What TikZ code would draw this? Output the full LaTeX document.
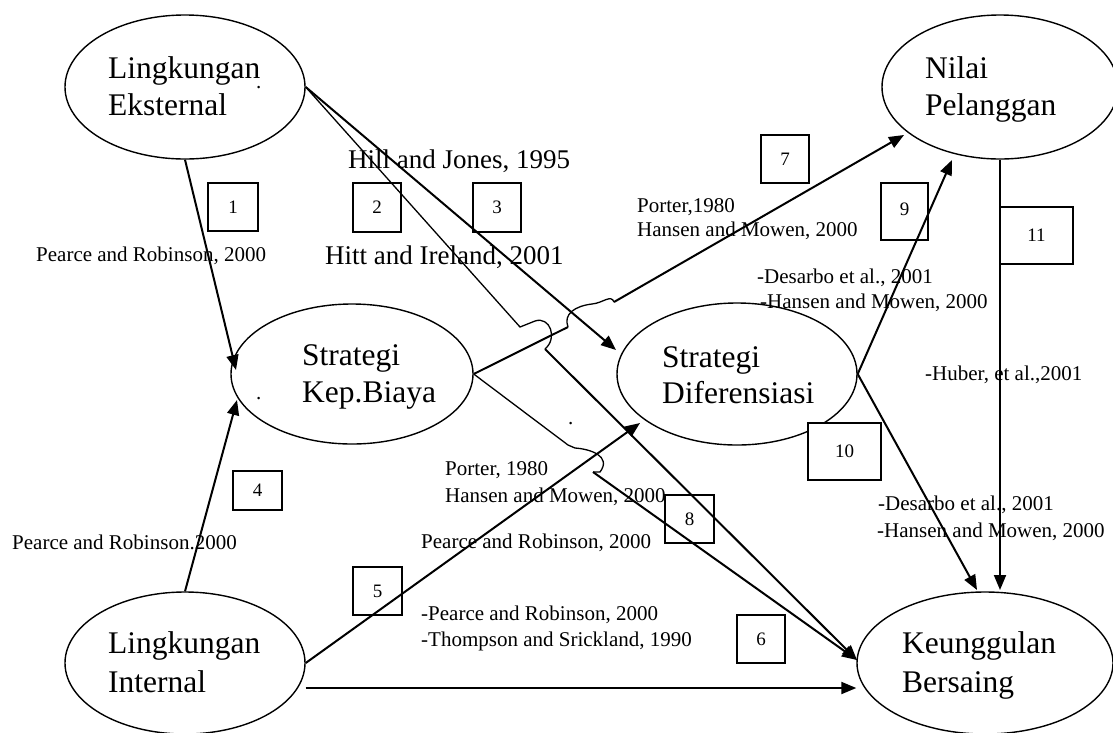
\documentclass[tikz,border=0pt]{standalone}
\usepackage{fontspec}
\setmainfont{Liberation Serif}
\usetikzlibrary{arrows.meta,calc,shapes.geometric}
\begin{document}
\begin{tikzpicture}[x=1pt,y=-1pt,
  ell/.style={ellipse,draw,line width=1.4pt,fill=white,inner sep=0pt},
  big/.style={anchor=base west,inner sep=0pt,font=\fontsize{31.5}{37}\selectfont},
  cite/.style={anchor=base west,inner sep=0pt,font=\fontsize{21}{25}\selectfont},
  hill/.style={anchor=base west,inner sep=0pt,font=\fontsize{27}{31}\selectfont},
  numbox/.style={draw,line width=1.4pt,fill=white,inner sep=0pt,font=\fontsize{19}{22}\selectfont},
  arr/.style={line width=2pt,-{Triangle[length=15pt,width=12pt]}},
  thinline/.style={line width=1.3pt},
  thickline/.style={line width=2pt},
]
\useasboundingbox (0,0) rectangle (1113,732);

% ellipses
\node[ell,minimum width=240pt,minimum height=144pt] (ext) at (185,87) {};
\node[ell,minimum width=236pt,minimum height=144pt] (nil) at (1000,87) {};
\node[ell,minimum width=242pt,minimum height=140pt] (kep) at (352,374) {};
\node[ell,minimum width=240pt,minimum height=142pt] (dif) at (737,374) {};
\node[ell,minimum width=240pt,minimum height=142pt] (int) at (185,663) {};
\node[ell,minimum width=256pt,minimum height=142pt] (keu) at (985,663) {};

% number boxes
\node[numbox,minimum width=50pt,minimum height=48pt] (b1) at (233,207) {1};
\node[numbox,minimum width=48pt,minimum height=49pt] (b2) at (377,207.5) {2};
\node[numbox,minimum width=48pt,minimum height=49pt] (b3) at (497,207.5) {3};
\node[numbox,minimum width=49pt,minimum height=39pt] (b4) at (257.5,490.5) {4};
\node[numbox,minimum width=49pt,minimum height=48pt] (b5) at (377.5,591) {5};
\node[numbox,minimum width=48pt,minimum height=48pt] (b6) at (761,639) {6};
\node[numbox,minimum width=48pt,minimum height=48pt] (b7) at (785,159) {7};
\node[numbox,minimum width=49pt,minimum height=48pt] (b8) at (689.5,519) {8};
\node[numbox,minimum width=47pt,minimum height=57pt] (b9) at (904.5,211.5) {\raisebox{4pt}{9}};
\node[numbox,minimum width=73pt,minimum height=57pt] (b10) at (844.5,451.5) {10};
\node[numbox,minimum width=73pt,minimum height=57pt] (b11) at (1036.5,235.5) {11};

% endpoint coordinates
\coordinate (kepL) at (236,370);
\coordinate (kepB) at (237,400);
\coordinate (difA) at (616,350);
\coordinate (difB) at (640,423);
\coordinate (nilA) at (904,135);
\coordinate (nilB) at (952,160);
\coordinate (keuA) at (977,590);
\coordinate (keuB) at (1000,590);
\coordinate (keuW) at (857,660);
\coordinate (j1) at (545,349);
\coordinate (j2) at (614,302);
\coordinate (j3) at (593,472);

% connectors
\draw[arr] (ext.south) -- (kepL);
\draw[arr] (int.north) -- (kepB);
\draw[arr] (ext.east) -- (difA);
\draw[thinline] (ext.east) -- (520,327) -- (535,321) .. controls (550,316) and (558,338) .. (j1);
\draw[arr] (j1) -- (keuW);
\draw[thickline] (kep.east) -- (568,327);
\draw[thinline] (568,327) .. controls (563,314) and (575,306) .. (592,304) .. controls (603,303) and (611,294) .. (j2);
\draw[arr] (j2) -- (nilA);
\draw[thinline] (kep.east) -- (568,445) -- (575,448) .. controls (590,449) and (612,456) .. (600,472) -- (j3);
\draw[arr] (j3) -- (keuW);
\draw[arr] (int.east) -- (difB);
\draw[arr] ($(int.east)+(0,25)$) -- ($(keu.west)+(0,25)$);
\draw[arr] (dif.east) -- (nilB);
\draw[arr] (dif.east) -- (keuA);
\draw[arr] (nil.south) -- (keuB);

% ellipse texts
\node[big] (t1a) at (108,78) {Lingkungan};
\node[big] (t1b) at (108,115) {Eksternal};
\node[big] (t2a) at (925,78) {Nilai};
\node[big] (t2b) at (925,115) {Pelanggan};
\node[big] (t3a) at (302,365) {Strategi};
\node[big] (t3b) at (302,402) {Kep.Biaya};
\node[big] (t4a) at (662,367) {Strategi};
\node[big] (t4b) at (662,403) {Diferensiasi};
\node[big] (t5a) at (108,653) {Lingkungan};
\node[big] (t5b) at (108,692) {Internal};
\node[big] (t6a) at (902,653) {Keunggulan};
\node[big] (t6b) at (902,692) {Bersaing};

% stray dots
\node[cite] (d1) at (256,88) {.};
\node[cite] (d2) at (256,399) {.};
\node[cite] (d3) at (568,424) {.};

% citations
\node[hill] (c1) at (348,168) {Hill and Jones, 1995};
\node[hill] (c2) at (325,264) {Hitt and Ireland, 2001};
\node[cite] (c3) at (36,261) {Pearce and Robinson, 2000};
\node[cite] (c4) at (637,212) {Porter,1980};
\node[cite] (c5) at (637,236) {Hansen and Mowen, 2000};
\node[cite] (c6) at (757,283) {-Desarbo et al., 2001};
\node[cite] (c7) at (760,308) {-Hansen and Mowen, 2000};
\node[cite] (c8) at (925,380) {-Huber, et al.,2001};
\node[cite] (c9) at (445,475) {Porter, 1980};
\node[cite] (c10) at (445,502) {Hansen and Mowen, 2000};
\node[cite] (c11) at (421,548) {Pearce and Robinson, 2000};
\node[cite] (c12) at (12,549) {Pearce and Robinson.2000};
\node[cite] (c13) at (421,620) {-Pearce and Robinson, 2000};
\node[cite] (c14) at (421,646) {-Thompson and Srickland, 1990};
\node[cite] (c15) at (878,510) {-Desarbo et al., 2001};
\node[cite] (c16) at (877,537) {-Hansen and Mowen, 2000};
\end{tikzpicture}
\end{document}
